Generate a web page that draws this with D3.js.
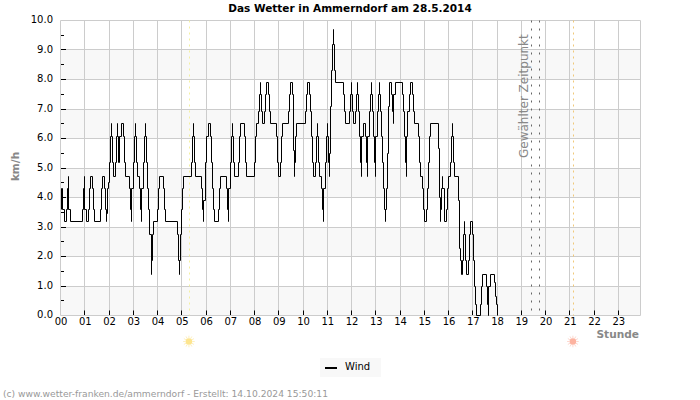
<!DOCTYPE html>
<html><head><meta charset="utf-8">
<script src="https://cdn.jsdelivr.net/npm/d3@7/dist/d3.min.js"></script>
<style>html,body{margin:0;padding:0;background:#fff}svg{display:block}text{font-family:"DejaVu Sans",sans-serif}</style>
</head><body><svg id="c" width="700" height="400"></svg>
<script>
const title = "Das Wetter in Ammerndorf am 28.5.2014";
const hourLabels = ["00","01","02","03","04","05","06","07","08","09","10","11","12","13","14","15","16","17","18","19","20","21","22","23"];
const yMajor = [0,1,2,3,4,5,6,7,8,9,10];
const yMinor = [0.5,1.5,2.5,3.5,4.5,5.5,6.5,7.5,8.5,9.5];
const yBands = [0,2,4,6,8];
const sunriseMin = 319, sunsetMin = 1269;
const selectedMin = [1165, 1185];
// time of each wind change, in samples of 1435/580 minutes after midnight
const windSample = [1,1,2,2,4,6,7,8,8,10,22,23,24,24,26,28,29,30,32,33,34,40,41,42,44,45,46,46,47,48,49,50,51,51,52,53,55,56,57,57,58,59,61,63,64,65,69,70,71,71,73,74,75,75,76,77,79,80,81,81,83,84,85,85,86,87,88,89,91,91,91,92,93,97,98,99,103,104,105,117,118,119,119,120,121,122,123,
131,132,133,133,134,135,141,142,143,143,145,146,148,150,151,152,153,154,158,159,160,166,167,168,168,170,171,172,172,173,174,178,179,180,184,185,186,194,195,196,198,199,200,200,201,202,204,205,206,208,209,210,216,217,218,220,221,222,228,229,230,232,233,234,234,235,236,
245,246,247,249,250,251,252,253,255,256,257,257,258,259,261,262,263,263,265,266,267,267,268,269,269,270,271,272,273,273,274,275,283,284,285,289,290,291,291,292,293,295,296,297,297,298,299,300,301,301,303,305,306,307,307,309,310,311,311,312,313,314,315,315,317,318,319,319,320,321,322,323,324,325,325,326,327,328,329,331,332,333,333,335,342,343,344,345,346,346,347,349,350,352,353,354,
358,359,360,362,363,364,366,367,368,369,370,378,379,380,380,381,382,382,384,386,387,388,390,391,392,392,393,394,398,399,400,401,402,403,404,404,405,406,408,409,410,412,413,414,415,416,420,421,422,426,427,428,428,430,434,435,436,437];
const windKmh = [3.6,4.3,4.3,3.6,3.2,3.6,4.3,4.72,3.6,3.2,3.6,4.3,4.72,3.6,3.2,3.6,4.3,4.72,4.3,3.6,3.2,3.6,4.3,4.72,4.3,3.6,3.2,3.45,4.3,4.5,5.2,6.07,6.5,6.07,5.2,4.72,5.2,6.07,6.5,6.07,5.2,6.07,6.5,6.07,5.2,4.72,4.3,3.6,3.2,4.3,5.2,6.07,6.5,6.07,5.2,4.72,4.3,3.6,3.2,4.3,5.2,6.07,6.5,6.07,5.2,4.3,3.6,2.75,1.85,1.4,1.85,2.75,3.2,3.6,4.3,4.72,4.3,3.6,3.2,2.75,1.85,1.4,1.85,2.75,3.6,4.3,4.72,
5.2,6.07,6.5,6.07,5.2,4.72,4.3,3.6,3.2,3.9,5.2,6.07,6.5,6.07,5.2,4.3,3.6,3.2,3.6,4.3,4.72,4.3,3.6,3.2,4.3,5.2,6.07,6.5,6.07,5.2,4.72,5.2,6.07,6.5,6.07,5.2,4.72,5.2,6.07,6.5,6.9,7.5,7.9,7.5,6.9,6.5,6.9,7.5,7.9,7.5,6.9,6.5,6.07,5.2,4.72,5.2,6.07,6.5,6.9,7.5,7.9,7.5,5.6,4.72,5.2,6.07,6.5,
6.9,7.5,7.9,7.5,6.9,6.07,5.2,4.72,5.2,6.07,6.5,6.07,5.2,4.72,4.3,3.6,3.2,4.3,5.2,6.07,6.5,6.07,5.2,4.72,5.5,7.1,8.3,9.2,9.7,9.2,8.3,7.9,7.5,6.9,6.5,6.9,7.5,7.9,7.5,6.9,6.5,6.9,7.5,7.9,7.5,6.9,6.07,5.2,4.72,6.07,6.5,6.07,5.2,4.72,6.07,6.9,7.5,7.9,7.5,6.9,6.07,5.2,4.72,6.07,6.9,7.5,7.9,7.5,6.9,6.07,5.2,4.3,3.6,3.2,3.6,4.3,5.5,7.1,7.9,7.5,6.9,6.5,7.5,7.9,7.5,6.9,6.07,5.2,4.72,6.07,6.9,7.5,7.9,7.5,6.9,6.5,
6.07,5.2,4.72,4.3,3.6,3.2,3.6,4.3,5.2,6.07,6.5,5.65,4.0,3.2,3.6,4.3,4.72,4.3,3.2,3.6,4.3,4.72,5.2,6.07,6.5,6.07,5.2,4.72,3.89,2.26,1.85,1.4,1.85,2.75,3.2,2.75,1.85,1.4,1.85,2.75,3.2,2.75,1.85,1.0,0.36,0,0.36,1.0,1.4,1.0,0.36,0,1.0,1.4,1.13,0.66,0.36,0];

const svg = d3.select("#c");
const minPerSample = 1435/580;
const x = d3.scaleLinear().domain([0,1435]).range([60.5,640.5]);
const y = d3.scaleLinear().domain([0,10]).range([315.5,20.5]);
const cx = v => Math.floor(x(v)+1e-6)+0.5;
const cy = v => Math.round(y(v)-0.5)+0.5;
const hours = hourLabels.map((d,i)=>i*60);

svg.append("g").selectAll("rect").data(yBands).join("rect")
  .attr("x",x(0)).attr("width",x(1435)-x(0))
  .attr("y",d=>y(d+1)).attr("height",d=>y(d)-y(d+1)).attr("fill","#f8f8f8");

const grid = svg.append("g").attr("stroke","#ccc").attr("stroke-width",1);
grid.selectAll(".h").data(yMajor).join("line").attr("x1",x(0)).attr("x2",x(1435)).attr("y1",cy).attr("y2",cy);
grid.selectAll(".v").data(hours).join("line").attr("x1",cx).attr("x2",cx).attr("y1",y(10)).attr("y2",y(0));
grid.append("line").attr("x1",x(1435)).attr("x2",x(1435)).attr("y1",y(10)).attr("y2",y(0));

function vline(min,color,dash){
  svg.append("line").attr("x1",cx(min)).attr("x2",cx(min)).attr("y1",y(10)).attr("y2",y(0))
    .attr("stroke",color).attr("stroke-dasharray",dash);
}
vline(sunriseMin,"#f4f0a0","2 4");
vline(sunsetMin,"#f0c878","2 4");
selectedMin.forEach(m=>vline(m,"#666","2 6"));

const windLine = d3.line().curve(d3.curveStepAfter)
  .x(d=>cx(d[0]*minPerSample)).y(d=>cy(d[1]));
svg.append("path").datum(windSample.map((s,i)=>[s,windKmh[i]]))
  .attr("fill","none").attr("stroke","#000").attr("stroke-width",1).attr("d",windLine);

// Tick marks
const tickG = svg.append("g").attr("stroke","#000");
tickG.selectAll(".x").data(hours.slice(1)).join("line").attr("x1",cx).attr("x2",cx).attr("y1",310.5).attr("y2",315);
tickG.selectAll(".ym").data(yMajor.slice(1,-1)).join("line").attr("x1",61).attr("x2",66).attr("y1",cy).attr("y2",cy);
tickG.selectAll(".yn").data(yMinor).join("line").attr("x1",61).attr("x2",64).attr("y1",cy).attr("y2",cy);

// Axes (labels)
const xAxis = d3.axisBottom(x).tickValues(hours).tickFormat((d,i)=>hourLabels[i]).tickSize(0).tickPadding(3);
const gx = svg.append("g").attr("transform","translate(0,315)").call(xAxis);
const yAxis = d3.axisLeft(y).tickValues(yMajor).tickFormat(d3.format(".1f")).tickSize(0).tickPadding(7);
const gy = svg.append("g").attr("transform","translate(60,-1)").call(yAxis);
[gx,gy].forEach(g=>{g.select(".domain").remove();
  g.selectAll("text").attr("fill","#000").style("font-size","10px").style("font-family",'"DejaVu Sans"');});

svg.append("text").attr("x",350).attr("y",12).attr("text-anchor","middle")
  .attr("font-weight","bold").attr("font-size",10.5).text(title);
svg.append("text").attr("transform","translate(19,166.5) rotate(-90)").attr("text-anchor","middle")
  .attr("font-weight","bold").attr("font-size",10.5).attr("fill","#888").text("km/h");
svg.append("text").attr("x",639).attr("y",338).attr("text-anchor","end")
  .attr("font-weight","bold").attr("font-size",10.6).attr("fill","#888").text("Stunde");
svg.append("text").attr("transform","translate(527.5,158) rotate(-90)")
  .attr("font-size",12).attr("fill","#888").text("Gewählter Zeitpunkt");

function sun(cxv,cyv,core,ray){
  const g = svg.append("g").attr("transform",`translate(${cxv},${cyv})`);
  d3.range(12).forEach(i=>{const a=i*Math.PI/6;
    g.append("line").attr("x1",3.5*Math.cos(a)).attr("y1",3.5*Math.sin(a)).attr("x2",5.8*Math.cos(a)).attr("y2",5.8*Math.sin(a))
     .attr("stroke",ray).attr("stroke-width",1);});
  g.append("circle").attr("r",3.3).attr("fill",core);
}
sun(x(sunriseMin)-0.5,341.5,"#fde58f","#fdf0c0");
sun(x(sunsetMin)-0.5,341.5,"#fdb3a0","#fdd8cf");

svg.append("rect").attr("x",320).attr("y",358).attr("width",61).attr("height",19).attr("fill","#f8f8f8");
svg.append("line").attr("x1",325).attr("x2",337).attr("y1",368).attr("y2",368).attr("stroke","#000").attr("stroke-width",2);
svg.append("text").attr("x",345).attr("y",370).attr("font-size",10).attr("fill","#000").text("Wind");
svg.append("text").attr("x",3).attr("y",397).attr("font-size",9.17).attr("fill","#999")
  .text("(c) www.wetter-franken.de/ammerndorf - Erstellt: 14.10.2024 15:50:11");
</script></body></html>
